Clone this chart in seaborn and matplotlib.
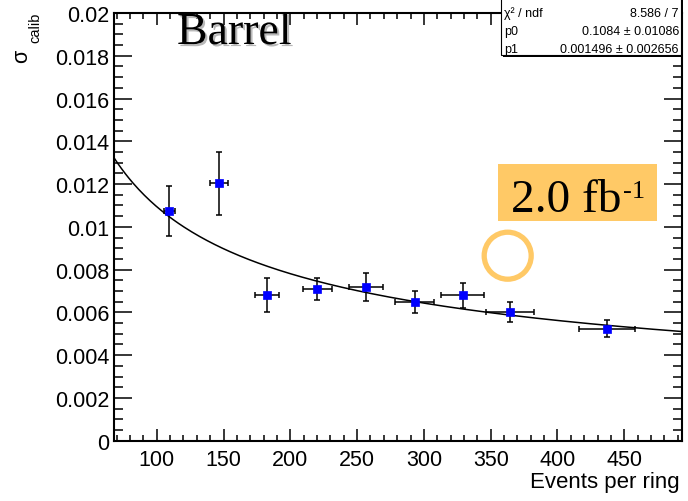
import numpy as np
import pandas as pd
import matplotlib
matplotlib.use('Agg')
import matplotlib.pyplot as plt
import matplotlib.patheffects as pe
from matplotlib.patches import Rectangle, Circle
from matplotlib.ticker import MultipleLocator, FuncFormatter
import seaborn as sns

# Datos (barril, 2.0 fb-1)
events = [109.2, 146.7, 182.8, 220.1, 256.8, 293.0, 328.9, 364.4, 436.8]
events_err = [4.1, 6.5, 9.0, 10.9, 12.5, 14.4, 16.0, 17.9, 21.0]
sigma = [0.01073, 0.01204, 0.00683, 0.00711, 0.00720, 0.00650, 0.00680, 0.00603, 0.00524]
sigma_err = [0.00116, 0.00147, 0.00080, 0.00051, 0.00065, 0.00051, 0.00058, 0.00046, 0.00040]

# Parámetros del ajuste (caja de estadísticas)
p0, p0_err = 0.1084, 0.01086
p1, p1_err = 0.001496, 0.002656
chi2_ndf = '8.586 / 7'

x_range = (68, 493)
y_range = (0, 0.02)

sns.set_theme(style="ticks")
plt.rcParams['font.family'] = ['Liberation Sans', 'DejaVu Sans']
plt.rcParams['text.color'] = 'black'
plt.rcParams['axes.labelcolor'] = 'black'
plt.rcParams['xtick.color'] = 'black'
plt.rcParams['ytick.color'] = 'black'


def px(x, y):
    """Pixeles de la imagen (origen arriba-izquierda) a fracción de figura"""
    return x / 688, 1 - y / 502


def main():
    df = pd.DataFrame({'events': events, 'sigma': sigma})
    x_fit = np.linspace(x_range[0], x_range[1], 300)
    fit = pd.DataFrame({'events': x_fit,
                        'sigma': np.sqrt(p0 ** 2 / x_fit + p1 ** 2)})

    fig = plt.figure(figsize=(6.88, 5.02), dpi=100)
    ax = fig.add_axes([114 / 688, 1 - 441.7 / 502, 567.7 / 688, 427.7 / 502])

    sns.lineplot(data=fit, x='events', y='sigma', ax=ax, color='black',
                 linewidth=1.1, zorder=2)
    ax.errorbar(events, sigma, xerr=events_err, yerr=sigma_err, fmt='none',
                ecolor='black', elinewidth=1.1, capsize=2.2, capthick=1.1,
                zorder=3)
    sns.scatterplot(data=df, x='events', y='sigma', ax=ax, marker='s', s=38,
                    color='#0000FF', edgecolor='#0000FF', linewidth=0.5,
                    zorder=4)

    ax.set_xlim(*x_range)
    ax.set_ylim(*y_range)
    ax.xaxis.set_major_locator(MultipleLocator(50))
    ax.xaxis.set_minor_locator(MultipleLocator(10))
    ax.yaxis.set_major_locator(MultipleLocator(0.002))
    ax.yaxis.set_minor_locator(MultipleLocator(0.0005))
    ax.yaxis.set_major_formatter(FuncFormatter(lambda v, _: '%g' % round(v, 6)))
    ax.xaxis.set_major_formatter(FuncFormatter(lambda v, _: '%g' % v))

    ax.tick_params(which='both', direction='in', top=True, right=True,
                   colors='black', labelsize=15.5, width=1.1)
    ax.tick_params(axis='x', which='major', length=8.5, pad=6)
    ax.tick_params(axis='x', which='minor', length=4.5)
    ax.tick_params(axis='y', which='major', length=13, pad=3.5)
    ax.tick_params(axis='y', which='minor', length=6.5)
    for s in ax.spines.values():
        s.set_linewidth(1.5)
        s.set_color('black')

    ax.set_xlabel('Events per ring', fontsize=16, ha='right')
    ax.xaxis.set_label_coords(0.997, -0.071)
    ax.set_ylabel('')

    # Título del eje y: sigma con subíndice bajado al estilo ROOT
    fig.text(*px(27, 63), 'σ', fontsize=15.5, rotation=90,
             rotation_mode='anchor', ha='left', va='baseline')
    fig.text(*px(39, 13), 'calib', fontsize=10.5, rotation=90,
             rotation_mode='anchor', ha='right', va='baseline')

    # Título "Barrel" con sombra
    fig.text(*px(177, 45), 'Barrel', family='Liberation Serif',
             fontsize=33, ha='left', va='baseline',
             path_effects=[pe.SimplePatchShadow(offset=(1.5, -1.5),
                                                shadow_rgbFace='0.72', alpha=1.0),
                           pe.Normal()])

    # Etiqueta de luminosidad
    fig.patches.append(Rectangle(px(498, 222), 159 / 688, 57 / 502,
                                 transform=fig.transFigure, facecolor='#FFC966',
                                 edgecolor='none', zorder=5))
    fig.text(*px(511, 211.7), '2.0 fb', family='Liberation Serif',
             fontsize=34, ha='left', va='baseline', zorder=6)
    fig.text(*px(623, 198), '-1', family='Liberation Serif',
             fontsize=19, ha='left', va='baseline', zorder=6)
    fig.patches.append(Circle((507.7 / 100, (502 - 256.7) / 100), 0.235,
                              transform=fig.dpi_scale_trans, facecolor='none',
                              edgecolor='#FFC966', linewidth=3.8, zorder=5))

    # Caja de estadísticas del ajuste
    fig.patches.append(Rectangle(px(503, 58), 180 / 688, 58 / 502,
                                 transform=fig.transFigure, facecolor='black',
                                 edgecolor='none', zorder=7))
    fig.patches.append(Rectangle(px(501, 56), 180 / 688, 57 / 502,
                                 transform=fig.transFigure, facecolor='white',
                                 edgecolor='black', linewidth=0.8, zorder=8))
    rows = [('χ² / ndf', chi2_ndf),
            ('p0', f'{p0} ± {p0_err}'),
            ('p1', f'{p1} ± {p1_err}')]
    for i, (name, val) in enumerate(rows):
        y = 14 + 18 * i
        fig.text(*px(504, y), name, fontsize=9, ha='left', va='center', zorder=9)
        fig.text(*px(679, y), val, fontsize=9, ha='right', va='center', zorder=9)

    fig.savefig('out.png', dpi=100)
    plt.close(fig)


if __name__ == "__main__":
    main()
